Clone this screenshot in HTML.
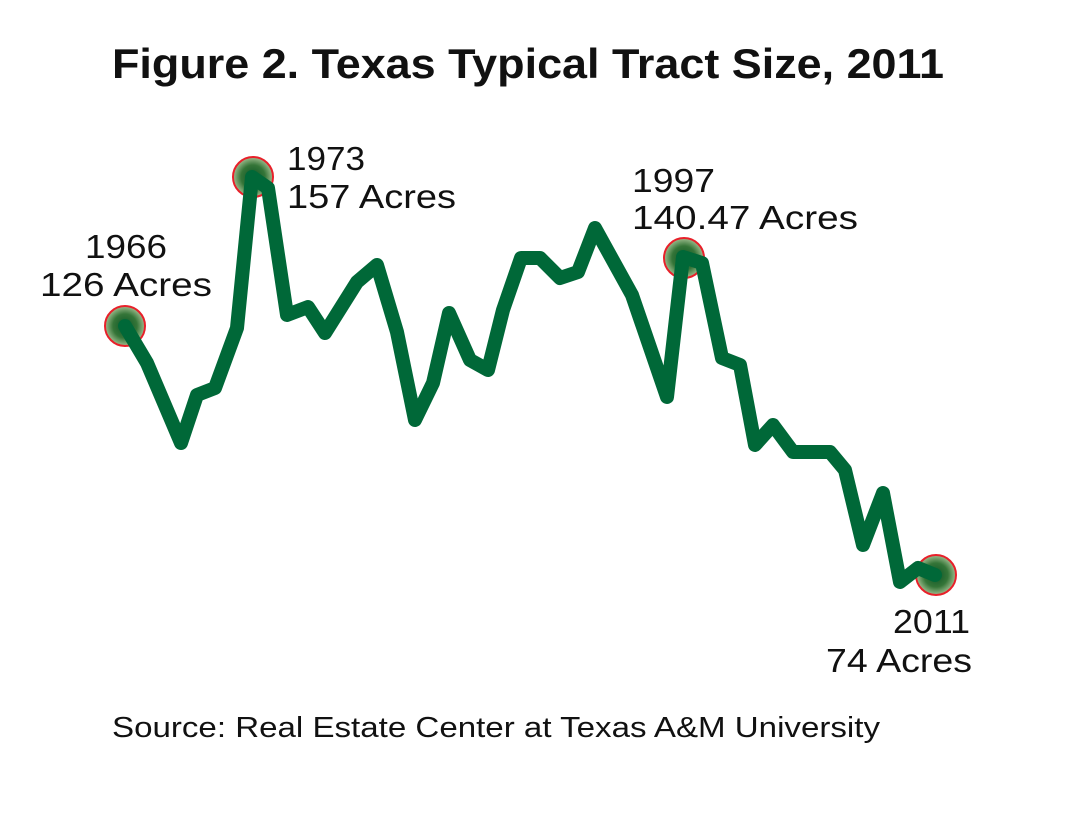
<!DOCTYPE html>
<html><head><meta charset="utf-8"><style>
html,body{margin:0;padding:0;background:#fff;}
svg{display:block;}
text{font-family:"Liberation Sans",sans-serif;fill:#111;}
</style></head><body>
<svg width="1067" height="825" viewBox="0 0 1067 825" xmlns="http://www.w3.org/2000/svg">
<defs>
<radialGradient id="g" cx="50%" cy="50%" r="50%">
<stop offset="0" stop-color="#0c5526"/><stop offset="0.6" stop-color="#357538"/><stop offset="1" stop-color="#9fbd8f"/>
</radialGradient>
</defs>
<text x="112" y="78" font-size="42" font-weight="bold" textLength="832" lengthAdjust="spacingAndGlyphs">Figure 2. Texas Typical Tract Size, 2011</text>
<circle cx="125" cy="326" r="20" fill="url(#g)" stroke="#e8202a" stroke-width="2"/>
<circle cx="253" cy="177" r="20" fill="url(#g)" stroke="#e8202a" stroke-width="2"/>
<circle cx="684" cy="258" r="20" fill="url(#g)" stroke="#e8202a" stroke-width="2"/>
<circle cx="936" cy="575" r="20" fill="url(#g)" stroke="#e8202a" stroke-width="2"/>
<polyline fill="none" stroke="#006838" stroke-width="14" stroke-linejoin="round" stroke-linecap="round"
points="125,326 147,363 181,443 197,395 215,388 237,328 252,177 268,188 287,315 308,307 325,333 357,282 377,265 397,332 415,420 433,383 449,313 470,360 488,370 503,310 521,258 540,258 560,278 578,272 595,228 632,295 667,397 683,257 702,263 722,358 740,365 755,445 773,425 793,452 830,452 845,470 863,545 883,493 900,582 918,568 935,575"/>
<text x="85" y="258" font-size="33" textLength="82" lengthAdjust="spacingAndGlyphs">1966</text>
<text x="40" y="296" font-size="33" textLength="172" lengthAdjust="spacingAndGlyphs">126 Acres</text>
<text x="287" y="170" font-size="33" textLength="78" lengthAdjust="spacingAndGlyphs">1973</text>
<text x="287" y="208" font-size="33" textLength="169" lengthAdjust="spacingAndGlyphs">157 Acres</text>
<text x="632" y="192" font-size="33" textLength="83" lengthAdjust="spacingAndGlyphs">1997</text>
<text x="632" y="229" font-size="33" textLength="226" lengthAdjust="spacingAndGlyphs">140.47 Acres</text>
<text x="893" y="633" font-size="33" textLength="77" lengthAdjust="spacingAndGlyphs">2011</text>
<text x="826" y="672" font-size="33" textLength="146" lengthAdjust="spacingAndGlyphs">74 Acres</text>
<text x="112" y="737" font-size="29" textLength="768" lengthAdjust="spacingAndGlyphs">Source: Real Estate Center at Texas A&amp;M University</text>
</svg>
</body></html>
